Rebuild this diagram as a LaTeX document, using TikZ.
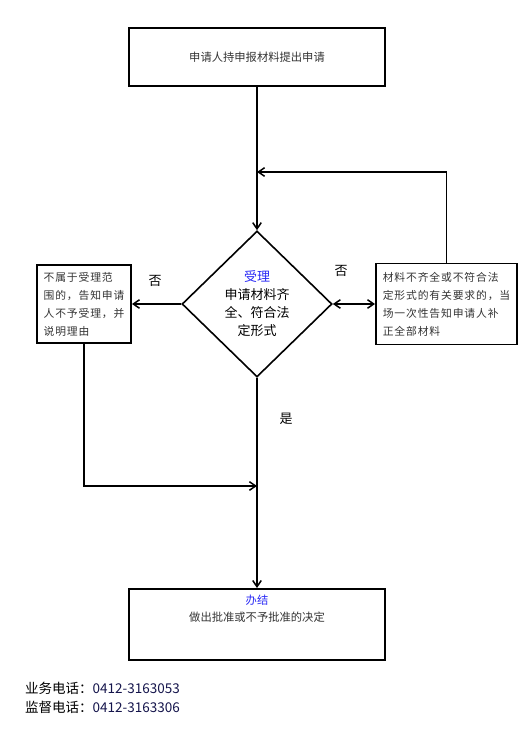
\documentclass[tikz,border=0pt]{standalone}
\usepackage{fontspec}
\setmainfont{Noto Sans CJK SC}
\newfontfamily\widecjk[LetterSpace=8]{Noto Sans CJK SC}
\usetikzlibrary{positioning,arrows.meta,shapes.geometric}
\definecolor{headblue}{RGB}{40,40,245}
\definecolor{telnavy}{RGB}{20,20,75}

\begin{document}
\begin{tikzpicture}[
  x=1pt,y=-1pt,
  box/.style={draw,line width=1.9pt,inner sep=0pt},
  note/.style={align=left,font=\widecjk\fontsize{10.8}{18}\selectfont,text=black!80},
  judge/.style={draw,diamond,line width=1.6pt,minimum width=150pt,minimum height=146pt,
                inner sep=0pt,align=center,font=\fontsize{13}{18}\selectfont},
  tag/.style={font=\fontsize{13}{13}\selectfont},
  tel/.style={anchor=west,inner sep=0pt,font=\fontsize{13.5}{19}\selectfont},
  arr/.style={-{Straight Barb[length=2.2mm,width=3mm]},line width=1.5pt},
]
  \useasboundingbox (0,0) rectangle (525,738);
  \node[box,minimum width=256pt,minimum height=58pt,font=\fontsize{11.3}{14}\selectfont,
        text=black!80] (apply) at (257,57) {申请人持申报材料提出申请};
  \node[judge] (accept) at (257,304) {\textcolor{headblue}{受理}\\申请材料齐\\全、符合法\\定形式};
  \node[box,note,minimum width=94pt,minimum height=78pt] (reject) at (84,304)
    {不属于受理范\\围的，告知申请\\人不予受理，并\\说明理由};
  \node[box,note,minimum width=141pt,minimum height=81pt] (refill) at (446.5,304)
    {材料不齐全或不符合法\\定形式的有关要求的，当\\场一次性告知申请人补\\正全部材料};
  \node[box,minimum width=256pt,minimum height=71pt] (finish) at (257,624.5) {};
  \node[align=center,font=\fontsize{11.3}{17}\selectfont,text=black!80,below=3pt of finish.north]
    (finishtxt) {\textcolor{headblue}{办结}\\做出批准或不予批准的决定};
  \coordinate (loopin) at (257,172);
  \coordinate (backin) at (257,486);
  \draw[arr] (apply) -- (accept);
  \draw[arr] (refill.north) |- (loopin);
  \draw[arr] (accept.west) -- (reject.east);
  \draw[arr,{Straight Barb[length=2.2mm,width=3mm]}-{Straight Barb[length=2.2mm,width=3mm]}]
    (accept.east) -- (refill.west);
  \draw[arr] (accept) -- (finish);
  \draw[arr] (reject.south) |- (backin);
  \node[tag] (noleft) at (155,281) {否};
  \node[tag] (noright) at (341,271) {否};
  \node[tag] (yes) at (286,419) {是};
  \node[tel] (biztel) at (25,688) {业务电话：\textcolor{telnavy}{0412-3163053}};
  \node[tel] (suptel) at (25,707) {监督电话：\textcolor{telnavy}{0412-3163306}};
\end{tikzpicture}
\end{document}
